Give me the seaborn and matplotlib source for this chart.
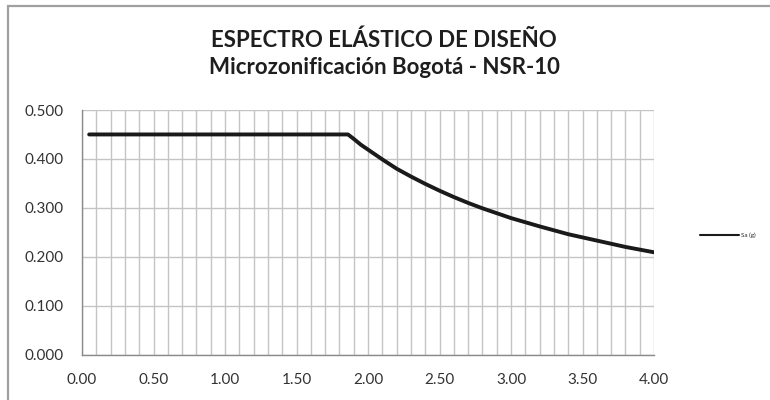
import matplotlib
matplotlib.use("Agg")
import matplotlib.pyplot as plt
import seaborn as sns
import pandas as pd
from matplotlib.patches import Rectangle
from matplotlib.lines import Line2D

# Data (period T in s, spectral acceleration Sa in g)
periodo = [0.05, 1.86, 1.90, 1.95, 2.00, 2.10, 2.20, 2.30, 2.40, 2.50, 2.60, 2.70, 2.80,
           2.90, 3.00, 3.20, 3.40, 3.60, 3.80, 4.00]
sa_g = [0.450, 0.450, 0.441, 0.429, 0.419, 0.399, 0.380, 0.364, 0.349, 0.335, 0.322,
        0.310, 0.299, 0.289, 0.279, 0.262, 0.246, 0.233, 0.220, 0.209]
serie = "Sa (g)"
titulo = "ESPECTRO ELÁSTICO DE DISEÑO\nMicrozonificación Bogotá - NSR-10"
x_ticks = [0.0, 0.5, 1.0, 1.5, 2.0, 2.5, 3.0, 3.5, 4.0]
y_ticks = [0.0, 0.1, 0.2, 0.3, 0.4, 0.5]

df = pd.DataFrame({"T": periodo, "Sa": sa_g, "serie": serie})

sns.set_style("white")
plt.rcParams["font.family"] = ["Lato", "DejaVu Sans"]

fig = plt.figure(figsize=(7.7, 4.0), dpi=100)
ax = fig.add_axes([82/770, 1 - 354.5/400, (654-82)/770, (354.5-110)/400])

sns.lineplot(data=df, x="T", y="Sa", hue="serie", palette=["#1a1a1a"],
             linewidth=2.8, ax=ax, legend=False, sort=False)

ax.set_xlim(0, 4)
ax.set_ylim(0, 0.5)
ax.set_xticks(x_ticks)
ax.set_xticklabels([f"{v:.2f}" for v in x_ticks])
ax.set_yticks(y_ticks)
ax.set_yticklabels([f"{v:.3f}" for v in y_ticks])
ax.set_xticks([i/10 for i in range(41)], minor=True)
ax.grid(True, which="both", color="#c4c4c4", linewidth=1.0)
ax.set_axisbelow(True)
ax.set_xlabel("")
ax.set_ylabel("")
for s in ["top", "right"]:
    ax.spines[s].set_visible(False)
for s in ["left", "bottom"]:
    ax.spines[s].set_color("#8a8a8a")
    ax.spines[s].set_linewidth(1.0)
ax.tick_params(axis="both", which="major", direction="out", length=4, width=1,
               color="#8a8a8a", labelsize=11, labelcolor="#333333")
ax.tick_params(axis="y", which="major", pad=9)
ax.tick_params(axis="x", which="major", pad=9)
ax.tick_params(axis="x", which="minor", length=0)

fig.text(384/770, 1 - 54/400, titulo, ha="center", va="center", fontsize=16,
         fontweight="bold", color="#1e1e1e", linespacing=1.35)

# legend
h = [Line2D([0], [0], color="#1a1a1a", linewidth=1.5)]
fig.legend(h, [serie], loc="center left", bbox_to_anchor=(700/770, 1 - 235/400),
           frameon=False, fontsize=4.5, handlelength=6.2, handletextpad=0.3,
           borderpad=0, borderaxespad=0)

# outer chart frame
fig.patches.append(Rectangle((8/770, -0.1), 1.2, (400-6)/400 + 0.1,
                             transform=fig.transFigure, fill=False,
                             edgecolor="#a0a0a0", linewidth=1.6))

fig.savefig("out.png", dpi=100)
